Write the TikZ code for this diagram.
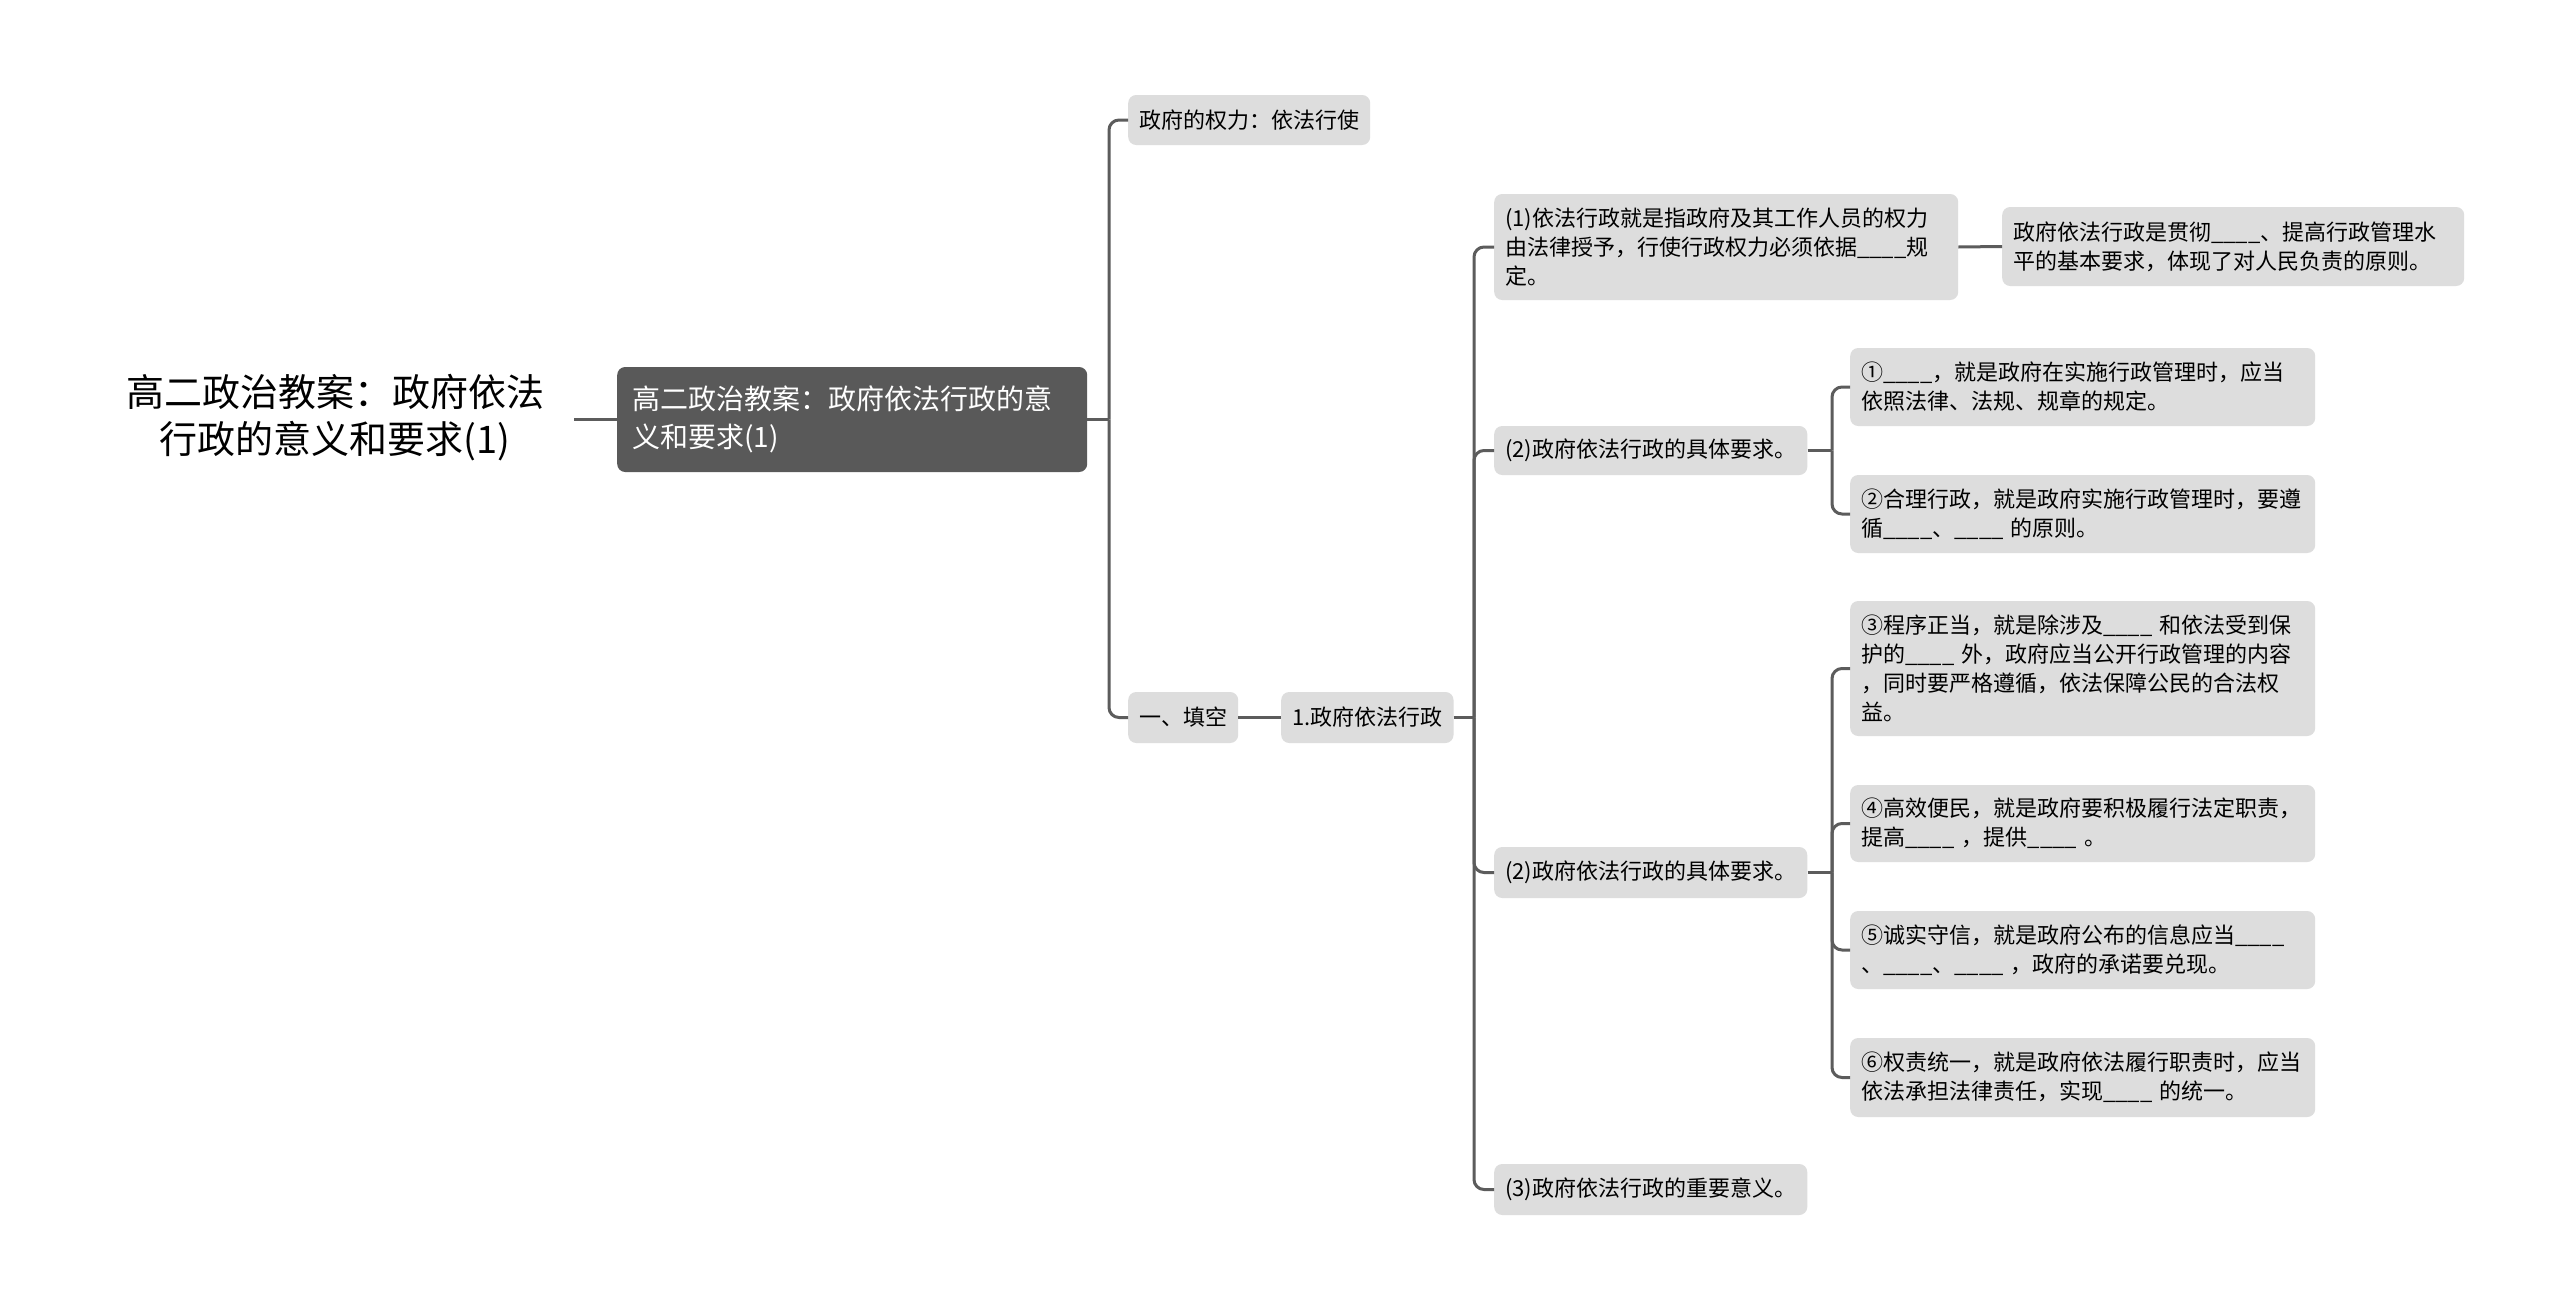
\documentclass[tikz,border=0pt]{standalone}
\usepackage{fontspec}
\setmainfont{Noto Sans CJK SC}
\definecolor{boxgray}{HTML}{DDDDDD}
\definecolor{darkbox}{HTML}{595959}
\definecolor{linegray}{HTML}{5C5C5C}
\tikzset{
  box/.style={fill=boxgray, rounded corners=8pt, anchor=west, align=left, inner xsep=11pt, inner ysep=0pt, font=\fontsize{22}{29}\selectfont, text=black},
  leafbox/.style={box, text width=443pt},
  conn/.style={draw=linegray, line width=3pt, rounded corners=10pt},
}
\begin{document}
\begin{tikzpicture}[x=1pt,y=-1pt]
\fill[white] (0,0) rectangle (2560,1309);
\useasboundingbox (0,0) rectangle (2560,1309);
% root
\node[align=center, font=\fontsize{38}{47}\selectfont, inner xsep=30pt, inner ysep=0pt] (root) at (335,418) {高二政治教案：政府依法\\行政的意义和要求(1)};
\node[fill=darkbox, rounded corners=8pt, anchor=west, align=left, text=white, inner xsep=15pt, inner ysep=0pt, text width=440pt, minimum height=105pt, font=\fontsize{28}{37.5}\selectfont] (main) at (617,419.5) {高二政治教案：政府依法行政的意\\义和要求(1)};
% level 2
\node[box, minimum height=50pt] (n1) at (1128,120) {政府的权力：依法行使};
\node[box, minimum height=51pt] (n2) at (1128,717.5) {一、填空};
\node[box, minimum height=51pt] (n3) at (1281,717.5) {1.政府依法行政};
% level 3
\node[box, text width=442pt, minimum height=106pt] (p1) at (1494,247) {(1)依法行政就是指政府及其工作人员的权力\\由法律授予，行使行政权力必须依据\_\_\_\_规\\定。};
\node[box, text width=440pt, minimum height=79pt] (p1c) at (2002,246.5) {政府依法行政是贯彻\_\_\_\_、提高行政管理水\\平的基本要求，体现了对人民负责的原则。};
\node[box, minimum height=49pt] (p2) at (1494,450.5) {(2)政府依法行政的具体要求。};
\node[box, minimum height=51pt] (p3) at (1494,872.5) {(2)政府依法行政的具体要求。};
\node[box, minimum height=51pt] (p4) at (1494,1189.5) {(3)政府依法行政的重要意义。};
% level 4
\node[leafbox, minimum height=78pt] (q1) at (1850,387) {①\_\_\_\_，就是政府在实施行政管理时，应当\\依照法律、法规、规章的规定。};
\node[leafbox, minimum height=78pt] (q2) at (1850,514) {②合理行政，就是政府实施行政管理时，要遵\\循\_\_\_\_、\_\_\_\_ 的原则。};
\node[leafbox, minimum height=135pt] (q3) at (1850,668.5) {③程序正当，就是除涉及\_\_\_\_ 和依法受到保\\护的\_\_\_\_ 外，政府应当公开行政管理的内容\\，同时要严格遵循，依法保障公民的合法权\\益。};
\node[leafbox, minimum height=77pt] (q4) at (1850,823.5) {④高效便民，就是政府要积极履行法定职责，\\提高\_\_\_\_ ，提供\_\_\_\_ 。};
\node[leafbox, minimum height=78pt] (q5) at (1850,950) {⑤诚实守信，就是政府公布的信息应当\_\_\_\_\\、\_\_\_\_、\_\_\_\_ ，政府的承诺要兑现。};
\node[leafbox, minimum height=79pt] (q6) at (1850,1077.5) {⑥权责统一，就是政府依法履行职责时，应当\\依法承担法律责任，实现\_\_\_\_ 的统一。};
% junctions
\coordinate (j0) at (1109,419.5);
\coordinate (j1) at (1474,717.5);
\coordinate (j2) at (1832,450.5);
\coordinate (j3) at (1832,872.5);
% connectors
\draw[conn] (root.east |- main.west) -- (main.west);
\draw[conn] (main.east) -- (j0);
\draw[conn] (j0) |- (n1.west);
\draw[conn] (j0) |- (n2.west);
\draw[conn] (n2.east) -- (n3.west);
\draw[conn] (n3.east) -- (j1);
\draw[conn] (j1) |- (p1.west);
\draw[conn] (j1) |- (p2.west);
\draw[conn] (j1) |- (p3.west);
\draw[conn] (j1) |- (p4.west);
\draw[conn] (p1.east) -- (p1c.west);
\draw[conn] (p2.east) -- (j2);
\draw[conn] (j2) |- (q1.west);
\draw[conn] (j2) |- (q2.west);
\draw[conn] (p3.east) -- (j3);
\draw[conn] (j3) |- (q3.west);
\draw[conn] (j3) |- (q4.west);
\draw[conn] (j3) |- (q5.west);
\draw[conn] (j3) |- (q6.west);
\end{tikzpicture}
\end{document}
